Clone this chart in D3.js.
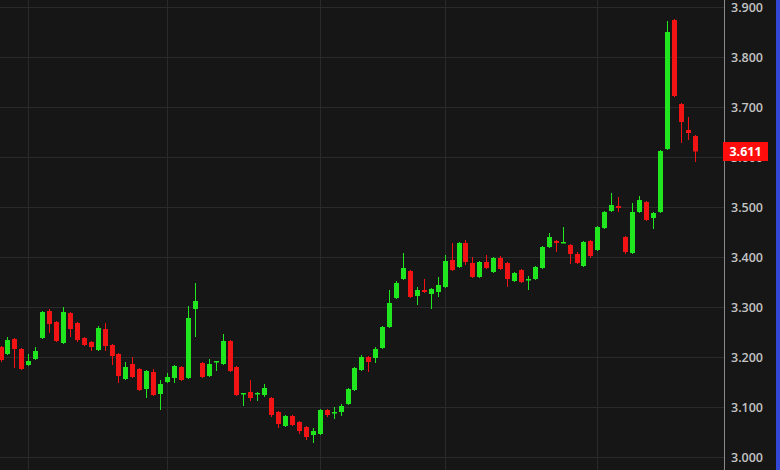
<!DOCTYPE html>
<html>
<head>
<meta charset="utf-8">
<script src="https://cdn.jsdelivr.net/npm/d3@7"></script>
<style>
  html, body { margin: 0; padding: 0; background: #161616; overflow: hidden; }
  svg { display: block; }
  .tick text { font-family: "Open Sans", sans-serif; font-weight: 600; }
</style>
</head>
<body>
<div id="chart"></div>
<script>
// OHLC, one candle per entry
const opens = [
  3.220, 3.206, 3.236, 3.216, 3.184, 3.196, 3.238, 3.292, 3.270, 3.228,
  3.288, 3.268, 3.238, 3.230, 3.214, 3.256, 3.224, 3.206, 3.156, 3.186,
  3.176, 3.136, 3.170, 3.126, 3.150, 3.158, 3.180, 3.158, 3.296, 3.188,
  3.162, 3.190, 3.186, 3.232, 3.180, 3.126, 3.130, 3.126, 3.124, 3.118,
  3.090, 3.062, 3.082, 3.070, 3.060, 3.044, 3.046, 3.094, 3.088, 3.090,
  3.106, 3.134, 3.174, 3.200, 3.198, 3.218, 3.260, 3.318, 3.356, 3.372,
  3.322, 3.334, 3.326, 3.330, 3.340, 3.394, 3.380, 3.428, 3.388, 3.360,
  3.390, 3.370, 3.398, 3.388, 3.352, 3.374, 3.354, 3.356, 3.378, 3.420,
  3.432, 3.428, 3.424, 3.406, 3.382, 3.432, 3.414, 3.458, 3.492, 3.502,
  3.440, 3.408, 3.490, 3.510, 3.478, 3.490, 3.616, 3.874, 3.706, 3.654,
  3.642
];
const highs = [
  3.222, 3.240, 3.238, 3.218, 3.206, 3.220, 3.292, 3.296, 3.272, 3.300,
  3.290, 3.270, 3.240, 3.232, 3.262, 3.268, 3.226, 3.208, 3.190, 3.200,
  3.178, 3.174, 3.176, 3.154, 3.168, 3.184, 3.182, 3.302, 3.348, 3.190,
  3.196, 3.192, 3.246, 3.234, 3.182, 3.128, 3.154, 3.130, 3.146, 3.120,
  3.092, 3.084, 3.084, 3.072, 3.062, 3.058, 3.096, 3.096, 3.100, 3.106,
  3.138, 3.180, 3.204, 3.202, 3.220, 3.262, 3.334, 3.352, 3.408, 3.374,
  3.340, 3.356, 3.338, 3.360, 3.404, 3.428, 3.430, 3.434, 3.400, 3.392,
  3.404, 3.400, 3.402, 3.390, 3.370, 3.376, 3.362, 3.382, 3.422, 3.448,
  3.434, 3.460, 3.426, 3.410, 3.432, 3.434, 3.462, 3.492, 3.528, 3.520,
  3.442, 3.508, 3.522, 3.512, 3.490, 3.614, 3.872, 3.876, 3.708, 3.680,
  3.644
];
const lows = [
  3.190, 3.204, 3.178, 3.174, 3.182, 3.194, 3.236, 3.248, 3.230, 3.226,
  3.240, 3.230, 3.222, 3.212, 3.212, 3.212, 3.184, 3.148, 3.154, 3.158,
  3.132, 3.118, 3.122, 3.094, 3.148, 3.148, 3.152, 3.156, 3.240, 3.158,
  3.160, 3.172, 3.184, 3.170, 3.122, 3.102, 3.112, 3.112, 3.120, 3.080,
  3.058, 3.060, 3.062, 3.046, 3.034, 3.028, 3.044, 3.080, 3.076, 3.082,
  3.104, 3.132, 3.172, 3.170, 3.188, 3.216, 3.258, 3.316, 3.354, 3.318,
  3.304, 3.328, 3.296, 3.320, 3.338, 3.372, 3.378, 3.384, 3.358, 3.358,
  3.376, 3.368, 3.374, 3.340, 3.350, 3.348, 3.334, 3.354, 3.376, 3.418,
  3.410, 3.428, 3.386, 3.386, 3.380, 3.398, 3.412, 3.456, 3.490, 3.490,
  3.406, 3.406, 3.488, 3.472, 3.456, 3.488, 3.614, 3.720, 3.628, 3.634,
  3.590
];
const closes = [
  3.194, 3.234, 3.216, 3.176, 3.192, 3.212, 3.290, 3.266, 3.232, 3.290,
  3.256, 3.234, 3.224, 3.220, 3.258, 3.222, 3.202, 3.162, 3.180, 3.160,
  3.134, 3.172, 3.124, 3.146, 3.160, 3.182, 3.154, 3.278, 3.312, 3.160,
  3.186, 3.192, 3.232, 3.172, 3.124, 3.128, 3.118, 3.128, 3.138, 3.084,
  3.066, 3.082, 3.064, 3.052, 3.040, 3.052, 3.094, 3.084, 3.090, 3.102,
  3.136, 3.178, 3.200, 3.190, 3.216, 3.260, 3.308, 3.348, 3.378, 3.320,
  3.334, 3.330, 3.336, 3.344, 3.392, 3.374, 3.428, 3.390, 3.360, 3.390,
  3.378, 3.398, 3.376, 3.356, 3.368, 3.350, 3.356, 3.380, 3.420, 3.440,
  3.428, 3.430, 3.406, 3.388, 3.430, 3.402, 3.460, 3.490, 3.504, 3.498,
  3.410, 3.490, 3.514, 3.474, 3.488, 3.612, 3.850, 3.722, 3.670, 3.648,
  3.611
];
const priceTicks = [3.0, 3.1, 3.2, 3.3, 3.4, 3.5, 3.6, 3.7, 3.8, 3.9];
const sessionBreaks = [4, 24, 46, 64, 86]; // candle index of vertical grid lines

const W = 780, H = 470;
const axisX = 724;
const UP = "#1fe61f", DOWN = "#f21414";

const svg = d3.select("#chart").append("svg")
  .attr("width", W)
  .attr("height", H);

svg.append("rect").attr("width", W).attr("height", H).attr("fill", "#161616");

let x = d3.scaleLinear().domain([0, opens.length - 1]).range([0.5, 694.5]);
let y = d3.scaleLinear().domain([3.0, 3.9]).range([457, 7]);

// grid
svg.append("g").selectAll("line")
  .data(priceTicks).enter()
  .append("line")
    .attr("x1", 0).attr("x2", axisX)
    .attr("y1", d => Math.round(y(d)) + 0.5)
    .attr("y2", d => Math.round(y(d)) + 0.5)
    .attr("stroke", "#2a2a2a");

svg.append("g").selectAll("line")
  .data(sessionBreaks).enter()
  .append("line")
    .attr("x1", d => Math.round(x(d)) + 0.5)
    .attr("x2", d => Math.round(x(d)) + 0.5)
    .attr("y1", 0).attr("y2", H)
    .attr("stroke", "#2a2a2a");

// candles
let candles = d3.range(opens.length).map(i => ({
  i: i, o: opens[i], h: highs[i], l: lows[i], c: closes[i]
}));

let g = svg.append("g").attr("class", "candles");
let c = g.selectAll("g").data(candles).enter().append("g");

c.append("line")
  .attr("x1", d => Math.round(x(d.i)) + 0.5)
  .attr("x2", d => Math.round(x(d.i)) + 0.5)
  .attr("y1", d => y(d.h))
  .attr("y2", d => y(d.l))
  .attr("stroke", d => d.c >= d.o ? UP : DOWN)
  .attr("stroke-width", 1);

c.append("rect")
  .attr("x", d => Math.round(x(d.i)) - 2)
  .attr("width", 5)
  .attr("y", d => y(Math.max(d.o, d.c)))
  .attr("height", d => Math.max(1.5, Math.abs(y(d.o) - y(d.c))))
  .attr("fill", d => d.c >= d.o ? UP : DOWN);

// price axis
svg.append("line")
  .attr("x1", axisX + 0.5).attr("x2", axisX + 0.5)
  .attr("y1", 0).attr("y2", H)
  .attr("stroke", "#8a8a8a");

let axis = svg.append("g")
  .attr("transform", "translate(" + axisX + ",0)")
  .call(d3.axisRight(y).tickValues(priceTicks).tickFormat(d3.format(".3f")).tickSize(0).tickPadding(7));
axis.select(".domain").remove();
axis.selectAll("text")
  .attr("fill", "#c4c4c4")
  .attr("font-size", 12.5);

// last price marker
let last = closes[closes.length - 1];
svg.append("rect")
  .attr("x", axisX - 1).attr("y", y(last) - 9.5)
  .attr("width", 45).attr("height", 19)
  .attr("fill", "#ff0d0d");
svg.append("text")
  .attr("x", axisX + 21.5).attr("y", y(last))
  .attr("dy", "0.35em")
  .attr("text-anchor", "middle")
  .attr("fill", "#ffffff")
  .attr("font-family", "Open Sans, sans-serif")
  .attr("font-weight", 700)
  .attr("font-size", 12.5)
  .text(d3.format(".3f")(last));

// blue edge on the far right
svg.append("rect")
  .attr("x", 776).attr("y", 0).attr("width", 4).attr("height", H)
  .attr("fill", "#3347d6");
</script>
</body>
</html>
